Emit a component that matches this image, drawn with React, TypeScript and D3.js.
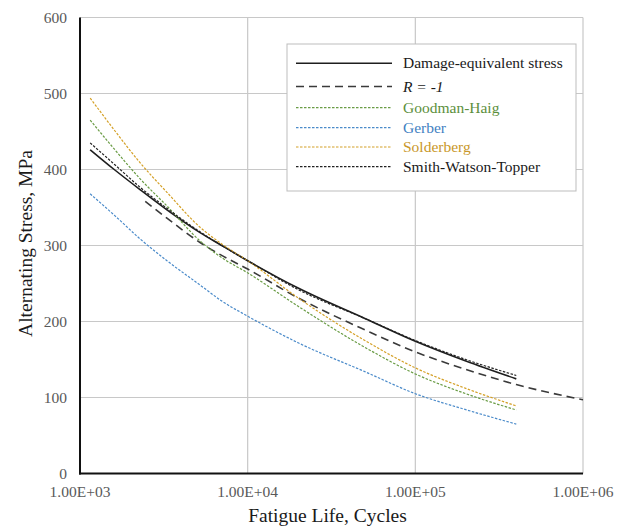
import * as d3 from "d3";
import React from "react";

const cycles = [1.15e3, 1.6e3, 2.3e3, 3.3e3, 5.2e3, 7e3, 1e4, 2e4, 5e4, 1e5, 2e5, 4e5];
const cyclesR = [2.45e3, 3.3e3, 5.2e3, 7e3, 1e4, 2e4, 5e4, 1e5, 2e5, 4e5, 1e6];

// stress values, MPa
const damageEq = [426, 400, 373, 347, 317, 300, 280, 244, 204, 174, 148, 124.5];
const rMinus1 = [358, 336, 304, 287, 269, 231, 189, 160, 137, 117, 97];
const goodman = [465, 427, 387, 352, 306, 284, 264, 220, 166, 131, 105, 83.6];
const gerber = [368, 340, 308, 280, 248, 227, 207, 172, 134, 105, 84, 65];
const solderberg = [494, 452, 408, 370, 324, 302, 280, 231, 175, 139, 112, 89];
const swt = [435, 407, 376, 349, 318, 300, 280, 242, 204, 175, 150, 129];

const xTicks = [1e3, 1e4, 1e5, 1e6];
const xTickLabels = ["1.00E+03", "1.00E+04", "1.00E+05", "1.00E+06"];
const yTicks = [0, 100, 200, 300, 400, 500, 600];

const FONT = "'Liberation Serif', 'Times New Roman', serif";

type Series = {
  name: string;
  x: number[];
  y: number[];
  color: string;
  textColor: string;
  width: number;
  dash?: string;
  italic?: boolean;
};

const series: Series[] = [
  { name: "Damage-equivalent stress", x: cycles, y: damageEq, color: "#1e1e1e", textColor: "#1a1a1a", width: 1.6 },
  { name: "R = -1", x: cyclesR, y: rMinus1, color: "#3a3a3a", textColor: "#1a1a1a", width: 1.6, dash: "8,5", italic: true },
  { name: "Goodman-Haig", x: cycles, y: goodman, color: "#6a9c45", textColor: "#5c8f3c", width: 1.2, dash: "2.5,1.5" },
  { name: "Gerber", x: cycles, y: gerber, color: "#4b8bca", textColor: "#3f7fc2", width: 1.2, dash: "2.5,1.5" },
  { name: "Solderberg", x: cycles, y: solderberg, color: "#d4a026", textColor: "#c9982a", width: 1.2, dash: "2.5,1.5" },
  { name: "Smith-Watson-Topper", x: cycles, y: swt, color: "#222222", textColor: "#1a1a1a", width: 1.2, dash: "2.5,1.5" },
];

export default function App() {
  const WIDTH = 625;
  const HEIGHT = 527;
  const left = 80, right = 583, top = 17.5, bottom = 473.5;

  const xScale = d3.scaleLog().domain([1e3, 1e6]).range([left, right]);
  const yScale = d3.scaleLinear().domain([0, 600]).range([bottom, top]);

  const line = d3
    .line<[number, number]>()
    .x(d => xScale(d[0]))
    .y(d => yScale(d[1]))
    .curve(d3.curveMonotoneX);

  // legend
  const legX = 287, legY = 44, legW = 289, legH = 147;
  const rowY = [63.3, 86.5, 107.7, 127.7, 147, 166.7];

  return (
    <svg
      width={WIDTH}
      height={HEIGHT}
      style={{ position: "absolute", left: 0, top: 0, background: "#fff" }}
      fontFamily={FONT}
    >
      {/* grid */}
      <g stroke="#c8c8c8" strokeWidth={1.2}>
        {yTicks.slice(1).map(t => (
          <line key={t} x1={left} x2={right} y1={yScale(t)} y2={yScale(t)} />
        ))}
        {xTicks.slice(1).map(t => (
          <line key={t} x1={xScale(t)} x2={xScale(t)} y1={top} y2={bottom} />
        ))}
      </g>

      {/* axes */}
      <line x1={left} x2={left} y1={top} y2={bottom + 1} stroke="#111" strokeWidth={2} />
      <line x1={left - 1} x2={right} y1={bottom} y2={bottom} stroke="#111" strokeWidth={2} />

      {/* y tick labels */}
      {yTicks.map(t => (
        <text key={t} x={67} y={yScale(t)} dy="0.34em" textAnchor="end" fontSize={15.5} fill="#595959">
          {t}
        </text>
      ))}
      {/* x tick labels */}
      {xTicks.map((t, i) => (
        <text key={t} x={xScale(t)} y={497} textAnchor="middle" fontSize={15.5} fill="#595959">
          {xTickLabels[i]}
        </text>
      ))}

      {/* axis titles */}
      <text x={(left + right) / 2 - 4} y={522} textAnchor="middle" fontSize={19.5} fill="#1a1a1a">
        Fatigue Life, Cycles
      </text>
      <text
        transform={`translate(32, ${(top + bottom) / 2 - 2}) rotate(-90)`}
        textAnchor="middle"
        fontSize={19.5}
        fill="#1a1a1a"
      >
        Alternating Stress, MPa
      </text>

      {/* curves */}
      {series.map(s => (
        <path
          key={s.name}
          d={line(s.x.map((x, i) => [x, s.y[i]] as [number, number])) || ""}
          fill="none"
          stroke={s.color}
          strokeWidth={s.width}
          strokeDasharray={s.dash}
        />
      ))}

      {/* legend */}
      <rect x={legX} y={legY} width={legW} height={legH} fill="#fff" stroke="#bdbdbd" strokeWidth={1} />
      {series.map((s, i) => (
        <g key={s.name}>
          <line
            x1={296}
            x2={392}
            y1={rowY[i]}
            y2={rowY[i]}
            stroke={s.color}
            strokeWidth={s.width}
            strokeDasharray={s.dash}
          />
          <text
            x={403}
            y={rowY[i]}
            dy="0.33em"
            fontSize={15.5}
            fill={s.textColor}
            fontStyle={s.italic ? "italic" : "normal"}
          >
            {s.name}
          </text>
        </g>
      ))}
    </svg>
  );
}
